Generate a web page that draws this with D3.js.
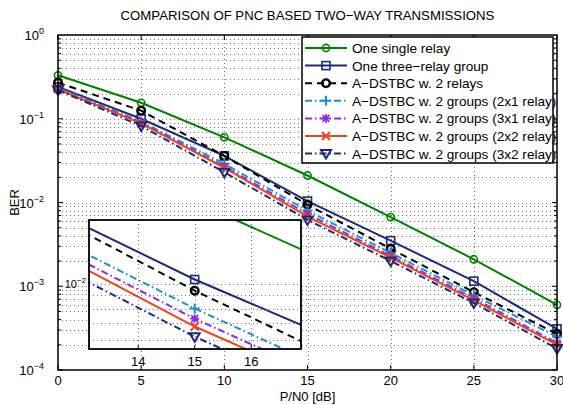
<!DOCTYPE html>
<html lang="en">
<head>
  <meta charset="UTF-8">
  <title>PNC BER comparison</title>
  <script src="https://d3js.org/d3.v7.min.js"></script>
  <style>
    body { margin: 0; background: #fff; }
    text { font-family: "Liberation Sans", Arial, sans-serif; fill: #000; }
  </style>
</head>
<body>
<div id="chart"></div>
<script>
  // data
  const snr = [0, 5, 10, 15, 20, 25, 30];
  const singleRelay = [0.33, 0.155, 0.06, 0.021, 0.0067, 0.0021, 0.0006];
  const threeRelayGroup = [0.24, 0.1, 0.036, 0.0104, 0.0035, 0.00115, 0.00031];
  const dstbc2Relays = [0.27, 0.125, 0.036, 0.0094, 0.0028, 0.00085, 0.00027];
  const groups2x1 = [0.235, 0.092, 0.029, 0.008, 0.0025, 0.00078, 0.00025];
  const groups3x1 = [0.23, 0.09, 0.027, 0.0073, 0.0023, 0.00072, 0.00021];
  const groups2x2 = [0.225, 0.088, 0.026, 0.0068, 0.0022, 0.00068, 0.0002];
  const groups3x2 = [0.22, 0.082, 0.023, 0.0062, 0.002, 0.00063, 0.00018];
  const legendLabels = [
    "One single relay",
    "One three\u2212relay group",
    "A\u2212DSTBC w. 2 relays",
    "A\u2212DSTBC w. 2 groups (2x1 relay)",
    "A\u2212DSTBC w. 2 groups (3x1 relay)",
    "A\u2212DSTBC w. 2 groups (2x2 relay)",
    "A\u2212DSTBC w. 2 groups (3x2 relay)"
  ];
  const xTicks = [0, 5, 10, 15, 20, 25, 30];
  const yExponents = [0, -1, -2, -3, -4];
  const insetXTicks = [14, 15, 16];

  const series = [
    { values: singleRelay, color: "#008000", dash: null, marker: "circle" },
    { values: threeRelayGroup, color: "#1c2a78", dash: null, marker: "square" },
    { values: dstbc2Relays, color: "#000000", dash: "7,5", marker: "circleBold" },
    { values: groups2x1, color: "#1e90d0", dash: "7,3,1.5,3", marker: "plus" },
    { values: groups3x1, color: "#8a2be2", dash: "7,3,1.5,3", marker: "star" },
    { values: groups2x2, color: "#e8461e", dash: null, marker: "cross" },
    { values: groups3x2, color: "#1c2a78", dash: "7,3,1.5,3", marker: "triangle" }
  ].map((s, i) => ({ ...s, label: legendLabels[i] }));

  const W = 563, H = 405;
  const margin = { top: 35, right: 6, bottom: 35, left: 58 };

  const svg = d3.select("#chart").append("svg")
    .attr("width", W).attr("height", H);

  const x = d3.scaleLinear().domain([0, 30]).range([margin.left, W - margin.right]);
  const y = d3.scaleLog().domain([1e-4, 1]).range([H - margin.bottom, margin.top]);

  // grid
  const minorY = [];
  for (let e = -4; e < 0; e++) for (let m = 1; m < 10; m++) minorY.push(m * Math.pow(10, e));

  const grid = svg.append("g").attr("stroke", "#555").attr("stroke-width", 0.8)
    .attr("stroke-dasharray", "1,3");
  grid.selectAll(".gy").data(minorY.filter(v => v > 1e-4)).enter().append("line")
    .attr("x1", x(0)).attr("x2", x(30))
    .attr("y1", d => Math.round(y(d)) + 0.5).attr("y2", d => Math.round(y(d)) + 0.5);
  grid.selectAll(".gx").data(xTicks.slice(1, -1)).enter().append("line")
    .attr("y1", y(1)).attr("y2", y(1e-4))
    .attr("x1", d => Math.round(x(d)) + 0.5).attr("x2", d => Math.round(x(d)) + 0.5);

  const line = (xs, ys) => d3.line().x((d, i) => xs(snr[i])).y(d => ys(d));

  function marker(g, type, cx, cy, color) {
    const m = g.append("g").attr("transform", `translate(${cx},${cy})`)
      .attr("fill", "none").attr("stroke", color).attr("stroke-width", 1.6);
    if (type === "circle" || type === "circleBold") {
      m.append("circle").attr("r", type === "circle" ? 3.6 : 3.8)
        .attr("stroke-width", type === "circle" ? 1.6 : 2.4);
    } else if (type === "square") {
      m.append("rect").attr("x", -4).attr("y", -4).attr("width", 8).attr("height", 8);
    } else if (type === "plus") {
      m.append("path").attr("d", "M-5,0H5M0,-5V5").attr("stroke-width", 2);
    } else if (type === "cross") {
      m.append("path").attr("d", "M-4,-4L4,4M-4,4L4,-4").attr("stroke-width", 2);
    } else if (type === "star") {
      m.append("path").attr("d", "M-3.5,-3.5L3.5,3.5M-3.5,3.5L3.5,-3.5M-4.5,0H4.5M0,-4.5V4.5").attr("stroke-width", 1.6);
    } else if (type === "triangle") {
      m.append("path").attr("d", "M-5,-3.5L5,-3.5L0,5Z").attr("stroke-width", 2);
    }
  }

  // main curves
  const plot = svg.append("g");
  series.forEach(s => {
    plot.append("path").datum(s.values)
      .attr("d", line(x, y))
      .attr("fill", "none").attr("stroke", s.color).attr("stroke-width", 2)
      .attr("stroke-dasharray", s.dash);
    s.values.forEach((v, i) => marker(plot, s.marker, x(snr[i]), y(v), s.color));
  });

  // axes box and ticks
  const axis = svg.append("g").attr("stroke", "#000");
  axis.append("rect").attr("x", x(0)).attr("y", y(1))
    .attr("width", x(30) - x(0)).attr("height", y(1e-4) - y(1))
    .attr("fill", "none").attr("stroke-width", 1.5);
  xTicks.forEach(t => {
    axis.append("line").attr("x1", x(t)).attr("x2", x(t)).attr("y1", y(1e-4)).attr("y2", y(1e-4) - 5);
    axis.append("line").attr("x1", x(t)).attr("x2", x(t)).attr("y1", y(1)).attr("y2", y(1) + 5);
  });
  minorY.forEach(v => {
    const len = Math.abs(Math.log10(v) - Math.round(Math.log10(v))) < 1e-9 ? 5 : 3;
    axis.append("line").attr("x1", x(0)).attr("x2", x(0) + len).attr("y1", y(v)).attr("y2", y(v));
    axis.append("line").attr("x1", x(30)).attr("x2", x(30) - len).attr("y1", y(v)).attr("y2", y(v));
  });

  svg.selectAll(".xl").data(xTicks).enter().append("text")
    .attr("x", d => x(d)).attr("y", y(1e-4) + 15)
    .attr("text-anchor", "middle").attr("font-size", 13).text(d => d);

  const yl = svg.selectAll(".yl").data(yExponents).enter().append("text")
    .attr("x", x(0) - 14).attr("y", d => y(Math.pow(10, d)) + 5)
    .attr("text-anchor", "end").attr("font-size", 13);
  yl.append("tspan").text("10");
  yl.append("tspan").attr("dy", -6).attr("font-size", 9).text(d => d === 0 ? "0" : "\u2212" + (-d));

  svg.append("text").attr("x", (x(0) + x(30)) / 2).attr("y", 20)
    .attr("text-anchor", "middle").attr("font-size", 13.2)
    .text("COMPARISON OF PNC BASED TWO\u2212WAY TRANSMISSIONS");
  svg.append("text").attr("x", (x(0) + x(30)) / 2).attr("y", 401)
    .attr("text-anchor", "middle").attr("font-size", 13).text("P/N0 [dB]");
  svg.append("text").attr("transform", `translate(19,${y(1e-2)}) rotate(-90)`)
    .attr("text-anchor", "middle").attr("font-size", 13).text("BER");

  // legend
  const lg = svg.append("g");
  const lx = 302, ly = 37, lw = 251, rowH = 17.6;
  lg.append("rect").attr("x", lx).attr("y", ly).attr("width", lw).attr("height", 126)
    .attr("fill", "#fff").attr("stroke", "#000").attr("stroke-width", 1.5);
  series.forEach((s, i) => {
    const cy = ly + 11 + i * rowH;
    lg.append("line").attr("x1", lx + 3).attr("x2", lx + 45).attr("y1", cy).attr("y2", cy)
      .attr("stroke", s.color).attr("stroke-width", 2).attr("stroke-dasharray", s.dash);
    marker(lg, s.marker, lx + 24, cy, s.color);
    lg.append("text").attr("x", lx + 50).attr("y", cy + 5).attr("font-size", 13.6).text(s.label);
  });

  // zoomed inset around 15 dB
  const ix = d3.scaleLinear().domain([13.13, 16.88]).range([89, 301]);
  const iy = d3.scaleLog().domain([0.00555, 0.0178]).range([349, 220]);
  const inset = svg.append("g");
  inset.append("rect").attr("x", 89).attr("y", 220).attr("width", 212).attr("height", 129)
    .attr("fill", "#fff");
  inset.append("clipPath").attr("id", "ic").append("rect")
    .attr("x", 89).attr("y", 220).attr("width", 212).attr("height", 129);
  const ig = inset.append("g").attr("stroke", "#555").attr("stroke-width", 0.8).attr("stroke-dasharray", "1,3");
  [0.006, 0.007, 0.008, 0.009, 0.01].forEach(v => {
    ig.append("line").attr("x1", 89).attr("x2", 301)
      .attr("y1", Math.round(iy(v)) + 0.5).attr("y2", Math.round(iy(v)) + 0.5);
  });
  insetXTicks.forEach(t => {
    ig.append("line").attr("y1", 220).attr("y2", 349)
      .attr("x1", Math.round(ix(t)) + 0.5).attr("x2", Math.round(ix(t)) + 0.5);
  });
  const ip = inset.append("g").attr("clip-path", "url(#ic)");
  series.forEach(s => {
    ip.append("path").datum(s.values)
      .attr("d", line(ix, iy))
      .attr("fill", "none").attr("stroke", s.color).attr("stroke-width", 2)
      .attr("stroke-dasharray", s.dash);
    s.values.forEach((v, i) => marker(ip, s.marker, ix(snr[i]), iy(v), s.color));
  });
  inset.append("rect").attr("x", 89).attr("y", 220).attr("width", 212).attr("height", 129)
    .attr("fill", "none").attr("stroke", "#000").attr("stroke-width", 1.8);
  insetXTicks.forEach(t => {
    inset.append("line").attr("x1", ix(t)).attr("x2", ix(t)).attr("y1", 349).attr("y2", 345).attr("stroke", "#000");
    inset.append("text").attr("x", ix(t)).attr("y", 366).attr("text-anchor", "middle")
      .attr("font-size", 13).text(t);
  });
  const il = inset.append("text").attr("x", 86).attr("y", iy(0.01) + 4)
    .attr("text-anchor", "end").attr("font-size", 11);
  il.append("tspan").text("10");
  il.append("tspan").attr("dy", -5).attr("font-size", 8).text("\u22122");
</script>
</body>
</html>
